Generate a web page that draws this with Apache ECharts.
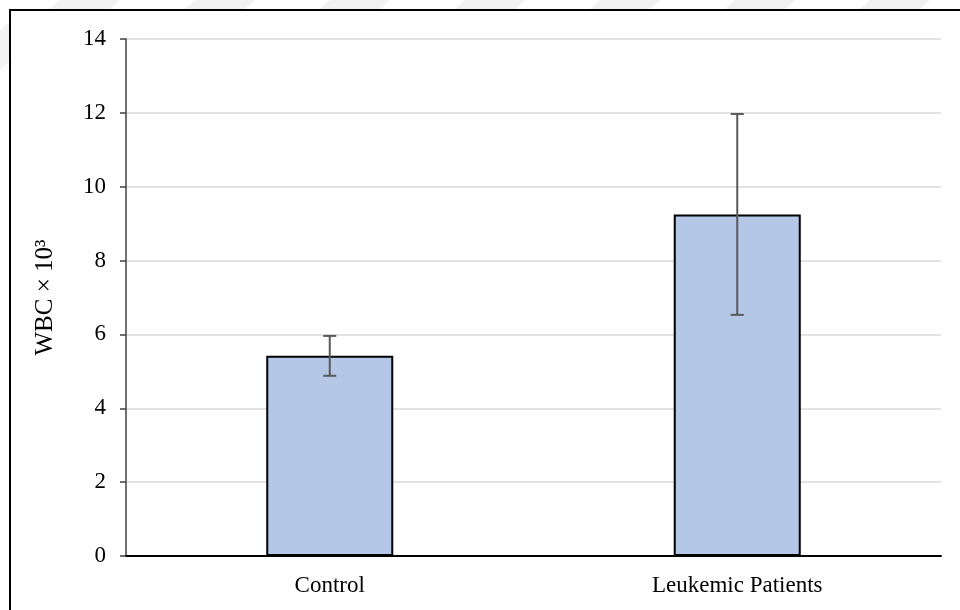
<!DOCTYPE html>
<html>
<head>
<meta charset="utf-8">
<script src="https://cdn.jsdelivr.net/npm/echarts@6/dist/echarts.min.js"></script>
<style>
html,body{margin:0;padding:0;background:#fff;}
#chart{width:960px;height:610px;}
</style>
</head>
<body>
<div id="chart"></div>
<script>
var categories = ['Control', 'Leukemic Patients'];
var means = [5.42, 9.25];
var errors = [0.54, 2.72];
var yTicks = [0, 2, 4, 6, 8, 10, 12, 14];
var yAxisTitle = 'WBC \u00d7 10\u00b3';

var chart = echarts.init(document.getElementById('chart'));
var errData = categories.map(function (c, i) { return [i, means[i] - errors[i], means[i] + errors[i]]; });

var stripes = [];
[60, 195, 330, 465, 600, 735, 870].forEach(function (x0) {
  stripes.push({
    type: 'polygon', silent: true, z: 0,
    shape: { points: [[x0, 0], [x0 + 60, 0], [x0 + 50, 9], [x0 - 10, 9]] },
    style: { fill: '#f1f1f1' }
  });
});
stripes.push({
  type: 'polygon', silent: true, z: 0,
  shape: { points: [[0, 30], [9, 22], [9, 62], [0, 70]] },
  style: { fill: '#f3f3f3' }
});

chart.setOption({
  animation: false,
  backgroundColor: '#fff',
  graphic: stripes.concat([{
    type: 'rect', silent: true, z: 100,
    shape: { x: 10, y: 10, width: 970, height: 620 },
    style: { fill: 'none', stroke: '#000', lineWidth: 2 }
  }]),
  grid: { left: 126, right: 19, top: 39, bottom: 54, containLabel: false },
  xAxis: {
    type: 'category',
    data: categories,
    axisLine: { lineStyle: { color: '#000', width: 2 } },
    axisTick: { show: false },
    axisLabel: { color: '#000', fontFamily: 'Liberation Serif', fontSize: 23, margin: 18 }
  },
  yAxis: {
    type: 'value',
    min: yTicks[0], max: yTicks[yTicks.length - 1], interval: 2,
    name: yAxisTitle,
    nameLocation: 'middle',
    nameGap: 68,
    nameTextStyle: { color: '#000', fontFamily: 'Liberation Serif', fontSize: 25 },
    axisLine: { show: true, lineStyle: { color: '#404040', width: 1.5 } },
    axisTick: { show: true, length: 6, lineStyle: { color: '#404040', width: 1.5 } },
    axisLabel: { color: '#000', fontFamily: 'Liberation Serif', fontSize: 23, margin: 20 },
    splitLine: { lineStyle: { color: '#d9d9d9', width: 1.5 } }
  },
  series: [{
    type: 'bar',
    data: means,
    barWidth: 127,
    itemStyle: { color: '#b4c7e7', borderColor: '#000', borderWidth: 2 },
    z: 2
  }, {
    type: 'custom',
    data: errData,
    z: 3,
    renderItem: function (params, api) {
      var x = api.value(0);
      var lo = api.coord([x, api.value(1)]);
      var hi = api.coord([x, api.value(2)]);
      var hw = 6.5;
      var st = { stroke: '#595959', lineWidth: 2 };
      return {
        type: 'group',
        children: [
          { type: 'line', shape: { x1: hi[0], y1: hi[1], x2: lo[0], y2: lo[1] }, style: st },
          { type: 'line', shape: { x1: hi[0] - hw, y1: hi[1], x2: hi[0] + hw, y2: hi[1] }, style: st },
          { type: 'line', shape: { x1: lo[0] - hw, y1: lo[1], x2: lo[0] + hw, y2: lo[1] }, style: st }
        ]
      };
    }
  }]
});
</script>
</body>
</html>
